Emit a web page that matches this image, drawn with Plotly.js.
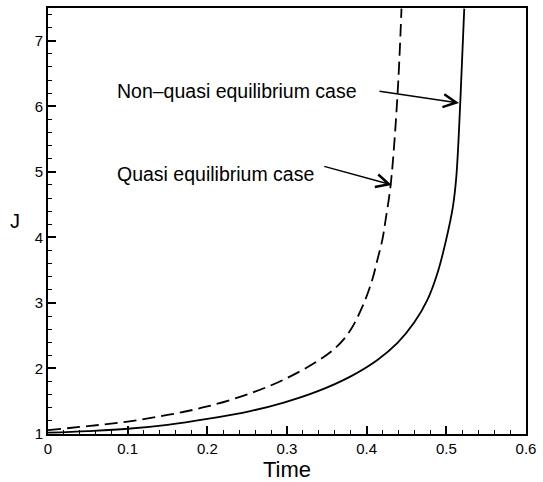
<!DOCTYPE html>
<html>
<head>
<meta charset="utf-8">
<script src="https://cdn.plot.ly/plotly-3.0.1.min.js"></script>
<style>html,body{margin:0;padding:0;background:#fff;}#chart{width:543px;height:482px;}</style>
</head>
<body>
<div id="chart"></div>
<script>
// Non-quasi equilibrium case (solid)
var timeNonQuasi = [0, 0.05, 0.1, 0.15, 0.2, 0.254, 0.296, 0.338, 0.38, 0.4135, 0.4387, 0.4596, 0.4764, 0.489, 0.4995, 0.508, 0.5125, 0.5175, 0.5225];
var jNonQuasi    = [1.02, 1.045, 1.08, 1.14, 1.23, 1.35, 1.48, 1.65, 1.88, 2.13, 2.39, 2.70, 3.05, 3.46, 3.95, 4.45, 4.92, 6.06, 7.49];
// Quasi equilibrium case (dashed)
var timeQuasi = [0, 0.05, 0.1, 0.15, 0.2, 0.254, 0.296, 0.338, 0.3631, 0.3799, 0.3966, 0.4072, 0.4135, 0.4198, 0.4239, 0.4302, 0.4387, 0.4437];
var jQuasi    = [1.06, 1.12, 1.19, 1.29, 1.42, 1.62, 1.83, 2.11, 2.34, 2.59, 3.00, 3.36, 3.66, 3.97, 4.28, 4.81, 6.17, 7.49];

var labelNonQuasi = "Non\u2013quasi equilibrium case";
var labelQuasi = "Quasi equilibrium case";
var xTitle = "Time";
var yTitle = "J";

var font = "Liberation Sans, Arial, sans-serif";

var traces = [
  {x: timeNonQuasi, y: jNonQuasi, mode: 'lines', line: {color: '#000', width: 1.8, shape: 'spline', smoothing: 1}, showlegend: false, hoverinfo: 'skip'},
  {x: timeQuasi, y: jQuasi, mode: 'lines', line: {color: '#000', width: 1.8, dash: '13px,6px', shape: 'spline', smoothing: 1}, showlegend: false, hoverinfo: 'skip'}
];

var layout = {
  width: 543, height: 482,
  margin: {l: 48, r: 17, t: 8, b: 48},
  paper_bgcolor: '#fff', plot_bgcolor: '#fff',
  font: {family: font, color: '#000', size: 15},
  xaxis: {
    range: [0, 0.6], dtick: 0.1, tick0: 0,
    showgrid: false, zeroline: false,
    showline: true, mirror: true, linecolor: '#000', linewidth: 2,
    ticks: 'inside', ticklen: 8, tickwidth: 2, tickcolor: '#000',
    minor: {ticks: 'inside', ticklen: 4, tickwidth: 1, tickcolor: '#000', dtick: 0.02, tick0: 0, showgrid: false},
    tickfont: {family: font, size: 15, color: '#000'},
    title: {text: xTitle, font: {family: font, size: 22, color: '#000'}, standoff: 10}
  },
  yaxis: {
    range: [1, 7.5], dtick: 1, tick0: 1,
    showgrid: false, zeroline: false,
    showline: true, mirror: true, linecolor: '#000', linewidth: 2,
    ticks: 'inside', ticklen: 8, tickwidth: 2, tickcolor: '#000',
    minor: {ticks: 'inside', ticklen: 4, tickwidth: 1, tickcolor: '#000', dtick: 0.2, tick0: 1, showgrid: false},
    tickfont: {family: font, size: 15, color: '#000'}
  },
  annotations: [
    {x: -0.069, y: 4.25, xref: 'paper', yref: 'y', text: yTitle, showarrow: false, xanchor: 'center', yanchor: 'middle', font: {family: font, size: 20, color: '#000'}},
    {x: 0.0839, y: 6.24, xref: 'x', yref: 'y', text: labelNonQuasi, showarrow: false, xanchor: 'left', yanchor: 'middle', font: {family: font, size: 19.5, color: '#000'}},
    {x: 0.0839, y: 4.97, xref: 'x', yref: 'y', text: labelQuasi, showarrow: false, xanchor: 'left', yanchor: 'middle', font: {family: font, size: 19.5, color: '#000'}},
    {x: 0.5159, y: 6.05, xref: 'x', yref: 'y', text: '', showarrow: true, ax: -81, ay: -12, arrowhead: 5, arrowsize: 1.7, arrowwidth: 1.5, arrowcolor: '#000', standoff: 0},
    {x: 0.4315, y: 4.80, xref: 'x', yref: 'y', text: '', showarrow: true, ax: -69, ay: -19, arrowhead: 5, arrowsize: 1.7, arrowwidth: 1.5, arrowcolor: '#000', standoff: 0}
  ]
};

Plotly.newPlot('chart', traces, layout, {staticPlot: true, displayModeBar: false});
</script>
</body>
</html>
